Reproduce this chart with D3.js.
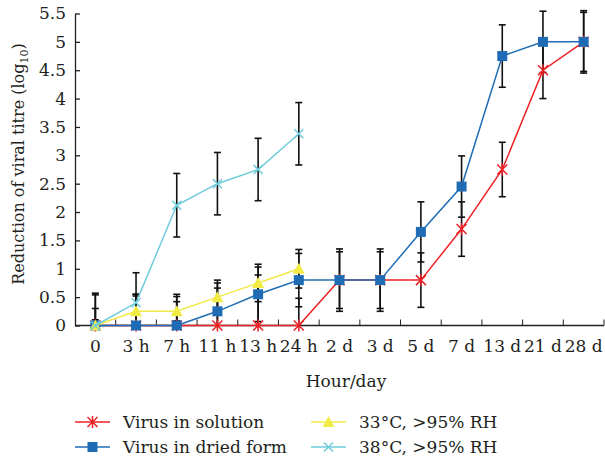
<!DOCTYPE html>
<html>
<head>
<meta charset="utf-8">
<script src="https://cdn.jsdelivr.net/npm/d3@7"></script>
<style>
  body { margin: 0; background: #fff; }
  text { font-family: "DejaVu Serif", serif; fill: #231f20; }
</style>
</head>
<body>
<div id="chart"></div>
<script>
// categories on the x axis
const hours = ["0", "3 h", "7 h", "11 h", "13 h", "24 h", "2 d", "3 d", "5 d", "7 d", "13 d", "21 d", "28 d"];
const yTicks = [0, 0.5, 1, 1.5, 2, 2.5, 3, 3.5, 4, 4.5, 5, 5.5];

// series values (log10 reduction) and their error bars
const solution = [0, 0, 0, 0, 0, 0, 0.8, 0.8, 0.8, 1.7, 2.75, 4.5, 5];
const solutionErr = [0.57, 0.55, 0.55, 0.66, 0.89, 0.48, 0.55, 0.55, 0.48, 0.48, 0.48, 0.5, 0.52];
const dried = [0, 0, 0, 0.25, 0.55, 0.8, 0.8, 0.8, 1.65, 2.45, 4.75, 5, 5];
const driedErr = [0.54, 0.52, 0.51, 0.5, 0.48, 0.47, 0.5, 0.5, 0.53, 0.54, 0.55, 0.54, 0.55];
const rh33 = [0, 0.25, 0.25, 0.5, 0.75, 1.0];
const rh33Err = [0.3, 0.3, 0.17, 0.3, 0.33, 0.34];
const rh38 = [0, 0.4, 2.12, 2.5, 2.75, 3.38];
const rh38Err = [0.1, 0.53, 0.56, 0.55, 0.55, 0.55];

const series = [
  { name: "Virus in solution", vals: solution, err: solutionErr, color: "#ed2024", mark: "star" },
  { name: "Virus in dried form", vals: dried, err: driedErr, color: "#1f6cb5", mark: "square" },
  { name: "33°C, >95% RH", vals: rh33, err: rh33Err, color: "#f2ea45", mark: "triangle" },
  { name: "38°C, >95% RH", vals: rh38, err: rh38Err, color: "#6fcbdc", mark: "cross" }
];

const W = 605, H = 460;
const svg = d3.select("#chart").append("svg")
  .attr("width", W).attr("height", H);

const x = d3.scaleBand().domain(hours).range([75, 604]).padding(0);
const y = d3.scaleLinear().domain([0, 5.5]).range([325.5, 13.5]);
const cx = d => x(d) + x.bandwidth() / 2;

// axes
const yAxis = svg.append("g")
  .attr("transform", "translate(75,0)")
  .call(d3.axisLeft(y).tickValues(yTicks).tickSizeInner(-5).tickSizeOuter(0).tickPadding(9)
    .tickFormat(d => String(d)));
yAxis.selectAll("text").style("font-size", "17px");

const xAxis = svg.append("g")
  .attr("transform", "translate(0,325.5)")
  .call(d3.axisBottom(x).tickSize(0).tickPadding(14));
xAxis.selectAll("text").style("font-size", "17px");
xAxis.select(".domain").attr("d", "M75,0H604");
// ticks between categories
xAxis.selectAll(".sep").data(hours).enter().append("line")
  .attr("x1", d => x(d) + x.bandwidth()).attr("x2", d => x(d) + x.bandwidth())
  .attr("y1", 0).attr("y2", -6).attr("stroke", "#231f20");
svg.selectAll(".domain, .tick line").attr("stroke", "#231f20").attr("stroke-width", 1.3);

// error bars
series.forEach(s => {
  s.vals.forEach((v, i) => {
    const xx = cx(hours[i]);
    const lo = Math.max(0, v - s.err[i]), hi = v + s.err[i];
    const g = svg.append("g").attr("stroke", "#111").attr("stroke-width", 1.6);
    g.append("line").attr("x1", xx).attr("x2", xx).attr("y1", y(lo)).attr("y2", y(hi));
    g.append("line").attr("x1", xx - 3.5).attr("x2", xx + 3.5).attr("y1", y(hi)).attr("y2", y(hi));
    if (v - s.err[i] > 0)
      g.append("line").attr("x1", xx - 3.5).attr("x2", xx + 3.5).attr("y1", y(lo)).attr("y2", y(lo));
  });
});

function drawMark(g, kind, color, px, py) {
  if (kind === "square") {
    g.append("rect").attr("x", px - 5).attr("y", py - 5).attr("width", 10).attr("height", 10)
      .attr("fill", color);
  } else if (kind === "triangle") {
    g.append("path").attr("d", `M${px},${py - 6}L${px + 6},${py + 5}L${px - 6},${py + 5}Z`)
      .attr("fill", color);
  } else if (kind === "star") {
    g.append("path").attr("d", `M${px - 5},${py - 5}L${px + 5},${py + 5}M${px + 5},${py - 5}L${px - 5},${py + 5}M${px},${py - 6}L${px},${py + 6}`)
      .attr("stroke", color).attr("stroke-width", 1.5).attr("fill", "none");
  } else {
    g.append("path").attr("d", `M${px - 4.5},${py - 4.5}L${px + 4.5},${py + 4.5}M${px + 4.5},${py - 4.5}L${px - 4.5},${py + 4.5}`)
      .attr("stroke", color).attr("stroke-width", 1.5).attr("fill", "none");
  }
}

const line = d3.line().x((d, i) => cx(hours[i])).y(d => y(d));
series.forEach(s => {
  const g = svg.append("g");
  g.append("path").datum(s.vals).attr("d", line)
    .attr("fill", "none").attr("stroke", s.color).attr("stroke-width", 1.5);
  s.vals.forEach((v, i) => drawMark(g, s.mark, s.color, cx(hours[i]), y(v)));
});

// axis titles
svg.append("text").attr("x", 346).attr("y", 387).attr("text-anchor", "middle")
  .style("font-size", "17px").text("Hour/day");
const yt = svg.append("text").attr("transform", "translate(24,164) rotate(-90)")
  .attr("text-anchor", "middle").style("font-size", "16px");
yt.append("tspan").text("Reduction of viral titre (log");
yt.append("tspan").attr("dy", 4).style("font-size", "11px").text("10");
yt.append("tspan").attr("dy", -4).text(")");

// legend
const legPos = [[75, 422], [75, 447], [311, 422], [311, 447]];
series.forEach((s, i) => {
  const [lx, ly] = legPos[i];
  const g = svg.append("g");
  g.append("line").attr("x1", lx).attr("x2", lx + 35).attr("y1", ly).attr("y2", ly)
    .attr("stroke", s.color).attr("stroke-width", 1.5);
  drawMark(g, s.mark, s.color, lx + 17.5, ly);
  g.append("text").attr("x", lx + 48).attr("y", ly + 6).style("font-size", "17px").text(s.name);
});
</script>
</body>
</html>
